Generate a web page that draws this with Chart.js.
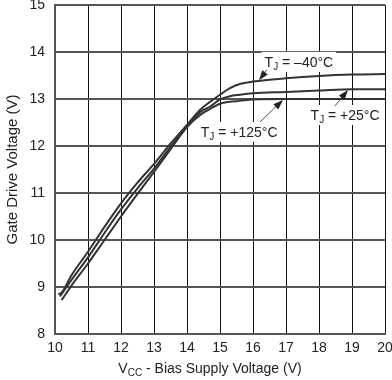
<!DOCTYPE html>
<html><head><meta charset="utf-8">
<script src="https://cdn.jsdelivr.net/npm/chart.js@4"></script>
<style>html,body{margin:0;padding:0;background:#fff}#w{width:392px;height:380px}</style>
</head><body><div id="w"><canvas id="c" width="392" height="380"></canvas></div>
<script>
const seriesNames = ['T_J = –40°C', 'T_J = +25°C', 'T_J = +125°C'];
const vccM40 = [10.1,10.2,10.5,11,11.5,12,12.5,13,13.5,14,14.4,14.7,15,15.3,15.6,16,17,18,19,20];
const gateM40 = [8.85,8.88,9.25,9.75,10.28,10.78,11.22,11.62,12.05,12.45,12.77,12.94,13.09,13.23,13.32,13.37,13.44,13.49,13.52,13.53];
const vcc25 = [10.15,10.5,11,11.5,12,12.5,13,13.5,14,14.4,14.7,15,15.3,15.6,16,17,18,19,20];
const gate25 = [8.8,9.15,9.63,10.15,10.65,11.1,11.52,11.98,12.42,12.72,12.84,12.99,13.06,13.09,13.12,13.15,13.18,13.21,13.21];
const vcc125 = [10.2,10.5,11,11.5,12,12.5,13,13.5,14,14.4,14.7,15,15.3,15.6,16,17,18,19,20];
const gate125 = [8.72,9.03,9.5,10.0,10.5,10.98,11.45,11.93,12.4,12.66,12.79,12.9,12.94,12.96,12.99,13.0,13.0,13.0,13.0];
const xTicks = [10,11,12,13,14,15,16,17,18,19,20];
const yTicks = [8,9,10,11,12,13,14,15];
// annotation label centres, arrow tails and tips in data units
const labelPos = [[17.39,13.79],[18.79,12.66],[15.58,12.30]];
const arrowTail = [[16.42,13.62],[18.48,12.85],[16.21,12.51]];
const arrowTip = [[16.18,13.40],[18.88,13.19],[16.91,12.98]];

const FONT = '"Liberation Sans", Arial, sans-serif';
const lineCol = '#333';
function pts(xs, ys){ return xs.map((x,i)=>({x:x,y:ys[i]})); }

function drawLabel(ctx, cx, cy, name){
  const rest = name.replace('T_J','');
  ctx.font = '14px ' + FONT;
  const wT = ctx.measureText('T').width;
  ctx.font = '10px ' + FONT;
  const wJ = ctx.measureText('J').width;
  ctx.font = '14px ' + FONT;
  const wR = ctx.measureText(rest).width;
  const w = wT + wJ + wR;
  const x0 = cx - w/2;
  ctx.fillStyle = '#fff';
  ctx.fillRect(x0-3, cy-10, w+6, 20);
  ctx.fillStyle = '#222';
  ctx.textBaseline = 'alphabetic';
  ctx.textAlign = 'left';
  ctx.fillText('T', x0, cy+5);
  ctx.font = '10px ' + FONT;
  ctx.fillText('J', x0+wT, cy+8);
  ctx.font = '14px ' + FONT;
  ctx.fillText(rest, x0+wT+wJ, cy+5);
}

const annot = {
  id:'annot',
  afterDatasetsDraw(chart){
    const ctx = chart.ctx, xs = chart.scales.x, ys = chart.scales.y;
    ctx.save();
    for(let i=0;i<seriesNames.length;i++){
      drawLabel(ctx, xs.getPixelForValue(labelPos[i][0]), ys.getPixelForValue(labelPos[i][1]), seriesNames[i]);
      const tx = xs.getPixelForValue(arrowTail[i][0]), ty = ys.getPixelForValue(arrowTail[i][1]);
      const hx = xs.getPixelForValue(arrowTip[i][0]), hy = ys.getPixelForValue(arrowTip[i][1]);
      const ang = Math.atan2(hy-ty, hx-tx);
      ctx.strokeStyle = '#222'; ctx.lineWidth = 0.8;
      ctx.beginPath(); ctx.moveTo(tx,ty); ctx.lineTo(hx - 8*Math.cos(ang), hy - 8*Math.sin(ang)); ctx.stroke();
      ctx.fillStyle = '#222';
      ctx.beginPath();
      ctx.moveTo(hx,hy);
      ctx.lineTo(hx - 10*Math.cos(ang) + 3.5*Math.sin(ang), hy - 10*Math.sin(ang) - 3.5*Math.cos(ang));
      ctx.lineTo(hx - 10*Math.cos(ang) - 3.5*Math.sin(ang), hy - 10*Math.sin(ang) + 3.5*Math.cos(ang));
      ctx.closePath(); ctx.fill();
    }
    ctx.restore();
  }
};

const xTitle = {
  id:'xTitle',
  afterDraw(chart){
    const ctx = chart.ctx, a = chart.chartArea;
    ctx.save();
    ctx.fillStyle = '#222';
    ctx.textBaseline = 'alphabetic'; ctx.textAlign = 'left';
    const big = '14px ' + FONT, small = '10px ' + FONT;
    const p1 = 'V', p2 = 'CC', p3 = ' - Bias Supply Voltage (V)';
    ctx.font = big; const w1 = ctx.measureText(p1).width, w3 = ctx.measureText(p3).width;
    ctx.font = small; const w2 = ctx.measureText(p2).width;
    const x0 = (a.left + a.right)/2 - (w1+w2+w3)/2 - 10;
    const y = 373;
    ctx.font = big; ctx.fillText(p1, x0, y);
    ctx.font = small; ctx.fillText(p2, x0+w1, y+3);
    ctx.font = big; ctx.fillText(p3, x0+w1+w2, y);
    ctx.restore();
  }
};

const ds = (data) => ({data:data, borderColor:lineCol, borderWidth:2, pointRadius:0, fill:false, cubicInterpolationMode:'monotone'});

new Chart(document.getElementById('c'), {
  type:'line',
  data:{ datasets:[ ds(pts(vccM40,gateM40)), ds(pts(vcc25,gate25)), ds(pts(vcc125,gate125)) ] },
  options:{
    responsive:false, animation:false, devicePixelRatio:1,
    layout:{ padding:{ top:5, right:7, left:0, bottom:0 } },
    plugins:{ legend:{display:false}, tooltip:{enabled:false} },
    scales:{
      x:{ type:'linear', min:10, max:20,
          afterBuildTicks(s){ s.ticks = xTicks.map(v=>({value:v})); },
          afterFit(s){ s.height = 46; s.paddingLeft = 0; s.paddingRight = 0; },
          grid:{ color:'#111', lineWidth:1, drawTicks:false },
          border:{ color:'#555', width:2 },
          ticks:{ color:'#222', font:{family:FONT, size:14}, padding:6, maxRotation:0 } },
      y:{ type:'linear', min:8, max:15,
          afterBuildTicks(s){ s.ticks = yTicks.map(v=>({value:v})); },
          afterFit(s){ s.width = 55; s.paddingTop = 0; s.paddingBottom = 0; },
          grid:{ color:'#555', lineWidth:2, drawTicks:false },
          border:{ color:'#555', width:2 },
          ticks:{ color:'#222', font:{family:FONT, size:14}, padding:10 },
          title:{ display:true, text:'Gate Drive Voltage (V)', color:'#222', font:{family:FONT, size:15}, padding:{top:4,bottom:2} } }
    }
  },
  plugins:[annot, xTitle]
});
</script></body></html>
